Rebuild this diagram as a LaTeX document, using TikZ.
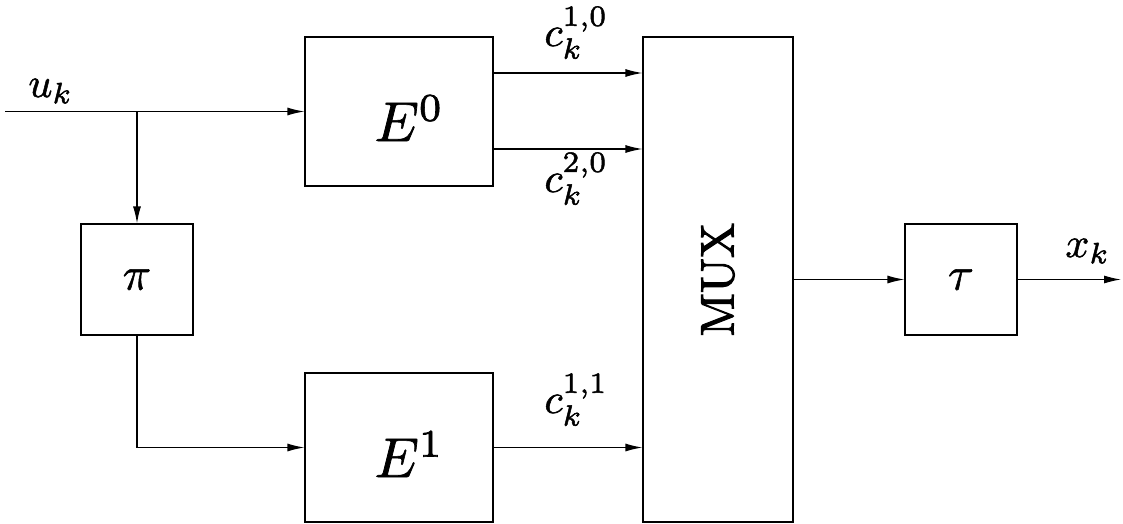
\documentclass[tikz,border=0pt]{standalone}
\usetikzlibrary{arrows.meta}
\newcommand{\sbx}[3][0.12]{\scalebox{#2}{\special{pdf:literal direct 2 Tr #1 w}#3\special{pdf:literal direct 0 Tr}}}
\begin{document}
\begin{tikzpicture}[x=0.5pt,y=-0.5pt,
  blk/.style={draw,line width=0.6pt,inner sep=0pt,minimum width=#1},
  arr/.style={line width=0.6pt,-{Latex[length=8.5pt,width=4pt]}},
  lab/.style={inner sep=0pt,anchor=base west}]
\useasboundingbox (0,0) rectangle (1123,524);
\node[blk=94pt,minimum height=74.5pt] (E0) at (399,111.5) {};
\node[blk=94pt,minimum height=74.5pt] (E1) at (399,447.5) {};
\node[inner sep=0pt,anchor=base west] (E0l) at (374,141) {\sbx{2.8}{$E^0$}};
\node[inner sep=0pt,anchor=base west] (E1l) at (374,477) {\sbx{2.8}{$E^1$}};
\node[blk=75pt,minimum height=242.5pt] (MUX) at (718,279.5) {};
\node[rotate=90,inner sep=0pt] (muxl) at (MUX.center) {\sbx[0.22]{2.35}{MUX}};
\node[blk=56pt,minimum height=55.5pt] (pi) at (137,279.5) {\sbx{2.35}{$\pi$}};
\node[blk=56pt,minimum height=55.5pt] (tau) at (961,279.5) {\sbx{2.35}{$\tau$}};
\coordinate (in) at (5,111.5);
\coordinate (br) at (137,111.5);
\coordinate (out) at (1121,279.5);
\draw[arr] (in) -- (E0.west);
\draw[arr] (br) -- (pi.north);
\draw[arr] (pi.south) |- (E1.west);
\draw[arr] (E0.east |- 0,73) -- (MUX.west |- 0,73);
\draw[arr] (E0.east |- 0,149) -- (MUX.west |- 0,149);
\draw[arr] (E1.east) -- (MUX.west |- E1.east);
\draw[arr] (MUX.east |- tau.west) -- (tau.west);
\draw[arr] (tau.east) -- (out);
\node[lab] (uk) at (28,97) {\sbx{2.1}{$u_k$}};
\node[lab] (c10) at (544,46) {\sbx{2.1}{$c_k^{1,0}$}};
\node[lab] (c20) at (544,192) {\sbx{2.1}{$c_k^{2,0}$}};
\node[lab] (c11) at (544,413) {\sbx{2.1}{$c_k^{1,1}$}};
\node[lab] (xk) at (1065,257) {\sbx{2.1}{$x_k$}};
\end{tikzpicture}
\end{document}
